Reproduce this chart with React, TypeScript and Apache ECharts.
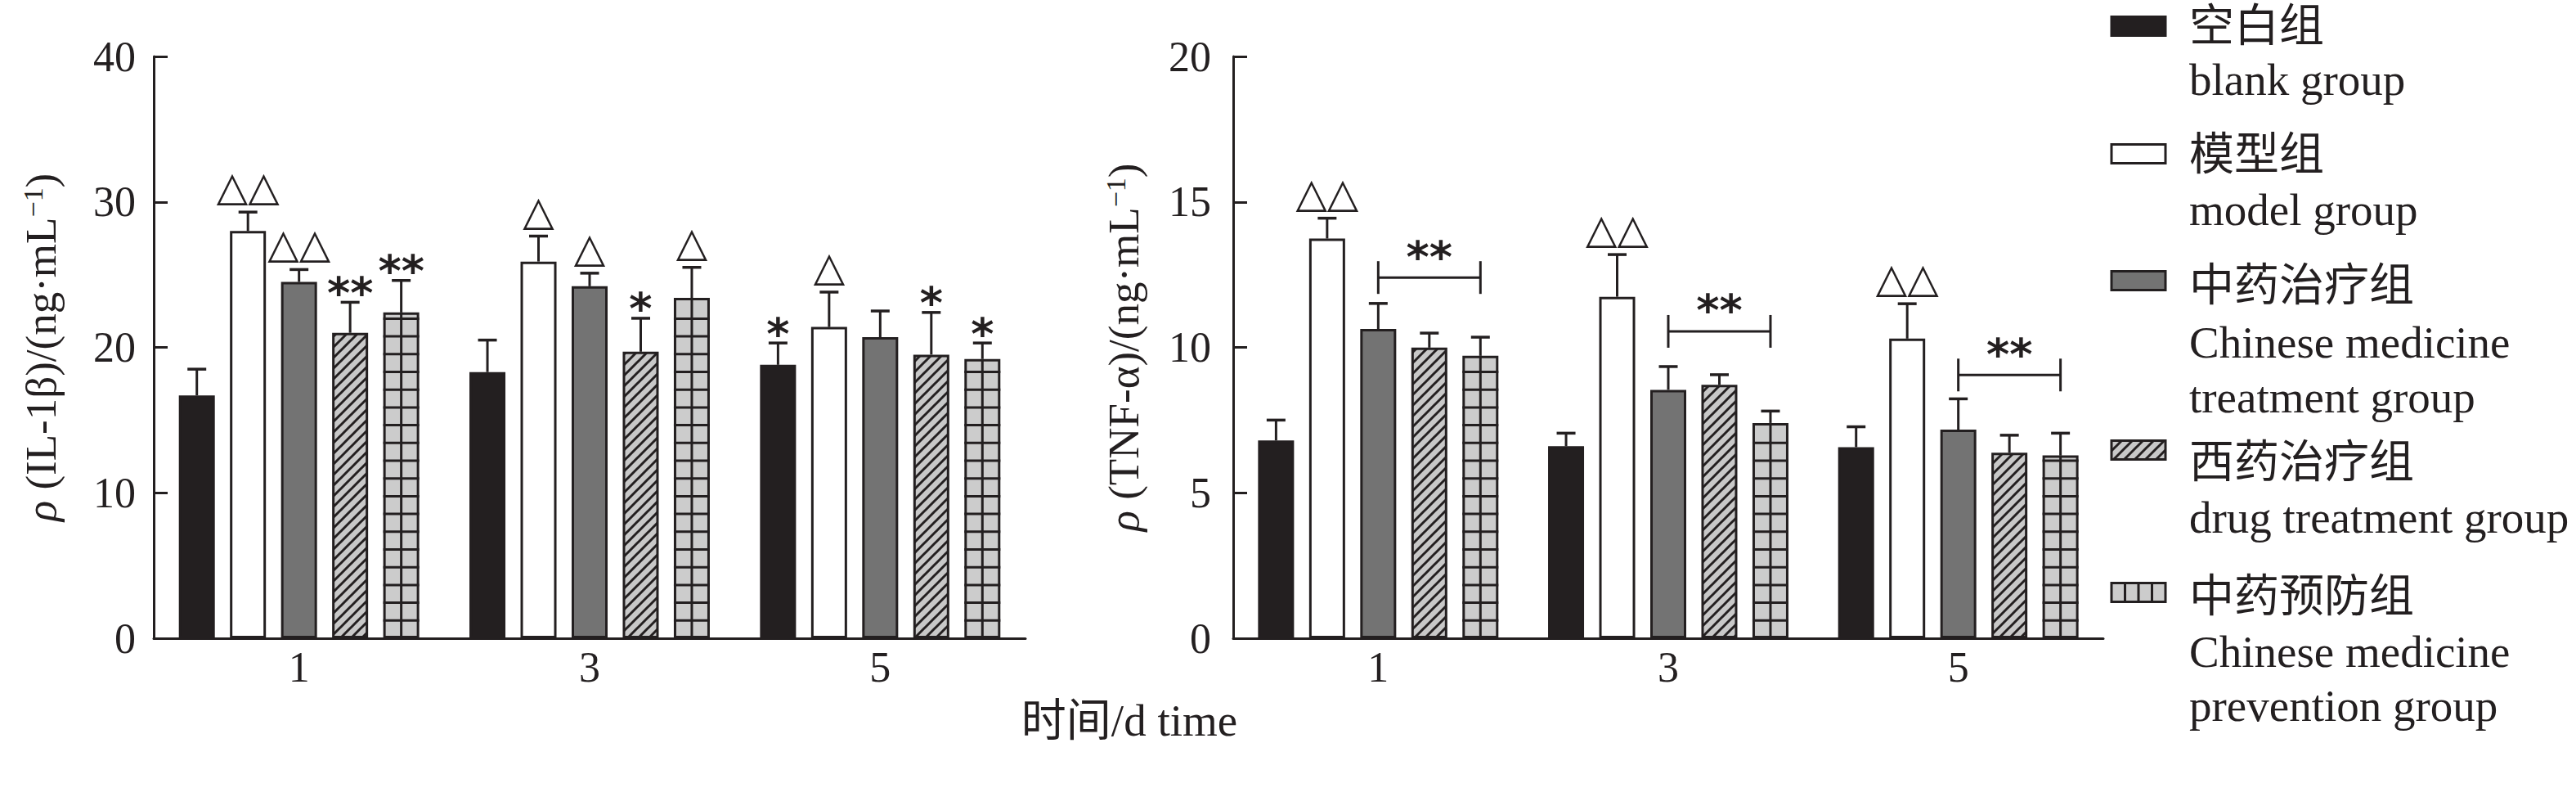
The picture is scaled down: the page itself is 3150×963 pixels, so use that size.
import React, { useEffect, useRef } from 'react';
import * as echarts from 'echarts';

// ---------- data ----------
const categories = ['1', '3', '5'];
const seriesNames = ['空白组', '模型组', '中药治疗组', '西药治疗组', '中药预防组'];
const seriesNamesEn = [
  ['blank group'],
  ['model group'],
  ['Chinese medicine', 'treatment group'],
  ['drug treatment group'],
  ['Chinese medicine', 'prevention group'],
];

// IL-1β (ng/mL): mean and SD per day 1, 3, 5
const il1bBlank = [16.7, 18.3, 18.8];
const il1bModel = [28.0, 25.9, 21.4];
const il1bCmTreat = [24.5, 24.2, 20.7];
const il1bDrug = [21.0, 19.7, 19.5];
const il1bCmPrev = [22.4, 23.4, 19.2];
const il1bBlankSd = [1.8, 2.2, 1.5];
const il1bModelSd = [1.3, 1.75, 2.4];
const il1bCmTreatSd = [0.85, 0.9, 1.8];
const il1bDrugSd = [2.1, 2.3, 2.9];
const il1bCmPrevSd = [2.2, 2.1, 1.1];
const il1bBlankMark = ['', '', '*'];
const il1bModelMark = ['△△', '△', '△'];
const il1bCmTreatMark = ['△△', '△', ''];
const il1bDrugMark = ['**', '*', '*'];
const il1bCmPrevMark = ['**', '△', '*'];

// TNF-α (ng/mL)
const tnfBlank = [6.8, 6.6, 6.57];
const tnfModel = [13.74, 11.74, 10.3];
const tnfCmTreat = [10.63, 8.54, 7.17];
const tnfDrug = [9.99, 8.71, 6.38];
const tnfCmPrev = [9.71, 7.4, 6.29];
const tnfBlankSd = [0.7, 0.45, 0.7];
const tnfModelSd = [0.7, 1.45, 1.2];
const tnfCmTreatSd = [0.88, 0.8, 1.06];
const tnfDrugSd = [0.5, 0.35, 0.6];
const tnfCmPrevSd = [0.64, 0.41, 0.76];
const tnfBlankMark = ['', '', ''];
const tnfModelMark = ['△△', '△△', '△△'];
const tnfCmTreatMark = ['', '', ''];
const tnfDrugMark = ['', '', ''];
const tnfCmPrevMark = ['', '', ''];
const tnfBracket = [12.4, 10.55, 9.05];
const tnfBracketMark = ['**', '**', '**'];

const il1bTicks = { min: 0, max: 40, interval: 10 };
const tnfTicks = { min: 0, max: 20, interval: 5 };

// ---------- styles ----------
const INK = '#231f20';
const SERIF = '"Liberation Serif", "Times New Roman", "Noto Sans CJK SC", serif';
const SYMBOL_FONT = '"DejaVu Sans", sans-serif';
const BAR_W = 44;
const BAR_GAP = 0.42;
const PITCH = BAR_W * (1 + BAR_GAP);

const hatchSvg =
  "<svg xmlns='http://www.w3.org/2000/svg' width='13' height='13'>" +
  "<rect width='13' height='13' fill='#c8c8c8'/>" +
  "<path d='M-3.25,3.25 L3.25,-3.25 M0,13 L13,0 M9.75,16.25 L16.25,9.75' stroke='#231f20' stroke-width='3'/>" +
  '</svg>';
const hatchPattern = {
  image: 'data:image/svg+xml;charset=utf-8,' + encodeURIComponent(hatchSvg),
  repeat: 'repeat',
  imageWidth: 13,
  imageHeight: 13,
};

const fills: any[] = ['#231f20', '#ffffff', '#737373', hatchPattern, '#cccccc'];

function markText(x: number, capY: number, mark: string) {
  const isStar = mark.indexOf('*') >= 0;
  return {
    type: 'text',
    x,
    y: isStar ? capY + 16 : capY - 6,
    silent: true,
    style: {
      text: mark,
      fill: INK,
      fontFamily: SYMBOL_FONT,
      fontSize: isStar ? 54 : 50,
      fontWeight: isStar ? 'bold' : 'normal',
      align: 'center',
      verticalAlign: 'bottom',
    },
  };
}

function errorSeries(axis: number, k: number, means: number[], sds: number[], marks: string[]) {
  return {
    type: 'custom',
    xAxisIndex: axis,
    yAxisIndex: axis,
    silent: true,
    z: 5,
    data: means.map((m, i) => [i, m, sds[i]]),
    renderItem: (params: any, api: any) => {
      const i = api.value(0);
      const m = api.value(1);
      const s = api.value(2);
      const base = api.coord([i, m]);
      const top = api.coord([i, m + s]);
      const zero = api.coord([i, 0]);
      const x = base[0] + (k - 2) * PITCH;
      const children: any[] = [];
      if (k === 4) {
        // grid pattern of the prevention bar
        children.push({
          type: 'line',
          shape: { x1: x, y1: base[1], x2: x, y2: zero[1] },
          style: { stroke: INK, lineWidth: 3 },
        });
        for (let y = zero[1] - 21.7; y > base[1] + 4; y -= 21.7) {
          children.push({
            type: 'line',
            shape: { x1: x - BAR_W / 2, y1: y, x2: x + BAR_W / 2, y2: y },
            style: { stroke: INK, lineWidth: 3 },
          });
        }
      }
      children.push({
        type: 'line',
        shape: { x1: x, y1: base[1], x2: x, y2: top[1] },
        style: { stroke: INK, lineWidth: 3 },
      });
      children.push({
        type: 'line',
        shape: { x1: x - 11.5, y1: top[1], x2: x + 11.5, y2: top[1] },
        style: { stroke: INK, lineWidth: 3.5 },
      });
      const mark = marks[params.dataIndex];
      if (mark) children.push(markText(x, top[1], mark));
      return { type: 'group', children };
    },
  };
}

function bracketSeries(axis: number, ys: number[], marks: string[]) {
  return {
    type: 'custom',
    xAxisIndex: axis,
    yAxisIndex: axis,
    silent: true,
    z: 6,
    data: ys.map((v, i) => [i, v]),
    renderItem: (params: any, api: any) => {
      const p = api.coord([api.value(0), api.value(1)]);
      const x1 = p[0];
      const x2 = p[0] + 2 * PITCH;
      const y = p[1];
      return {
        type: 'group',
        children: [
          { type: 'line', shape: { x1, y1: y, x2, y2: y }, style: { stroke: INK, lineWidth: 3 } },
          { type: 'line', shape: { x1, y1: y - 20, x2: x1, y2: y + 20 }, style: { stroke: INK, lineWidth: 3 } },
          { type: 'line', shape: { x1: x2, y1: y - 20, x2, y2: y + 20 }, style: { stroke: INK, lineWidth: 3 } },
          {
            type: 'text',
            x: (x1 + x2) / 2,
            y: y + 2,
            style: {
              text: marks[params.dataIndex],
              fill: INK,
              fontFamily: SYMBOL_FONT,
              fontSize: 54,
              fontWeight: 'bold',
              align: 'center',
              verticalAlign: 'bottom',
            },
          },
        ],
      };
    },
  };
}

function barSeries(axis: number, k: number, values: number[]) {
  return {
    type: 'bar',
    name: seriesNames[k],
    xAxisIndex: axis,
    yAxisIndex: axis,
    data: values,
    barWidth: BAR_W,
    barGap: BAR_GAP * 100 + '%',
    itemStyle: { color: fills[k], borderColor: INK, borderWidth: 3 },
    silent: true,
  };
}

const axisText = { fontFamily: SERIF, fontSize: 52, color: INK };

function xAxisDef(gridIndex: number) {
  return {
    type: 'category',
    gridIndex,
    data: categories,
    boundaryGap: true,
    axisLine: { show: true, lineStyle: { color: INK, width: 3 } },
    axisTick: { show: true, alignWithLabel: true, inside: true, length: 16, interval: 0, lineStyle: { color: INK, width: 3 } },
    axisLabel: { ...axisText, margin: 9 },
    splitLine: { show: false },
  };
}

function yAxisDef(gridIndex: number, ticks: any, name: string, labelMargin: number, nameGap: number) {
  return {
    type: 'value',
    gridIndex,
    min: ticks.min,
    max: ticks.max,
    interval: ticks.interval,
    name,
    nameLocation: 'middle',
    nameRotate: 90,
    nameGap,
    nameTextStyle: {
      fontFamily: SERIF,
      fontSize: 53,
      color: INK,
      rich: {
        i: { fontFamily: SERIF, fontSize: 53, fontStyle: 'italic', color: INK },
        s: { fontFamily: SERIF, fontSize: 34, color: INK, verticalAlign: 'top' },
      },
    },
    axisLine: { show: true, lineStyle: { color: INK, width: 3 } },
    axisTick: { show: true, inside: true, length: 17, lineStyle: { color: INK, width: 3 } },
    axisLabel: { ...axisText, margin: labelMargin },
    splitLine: { show: false },
  };
}

// ---------- legend (graphic) ----------
const legendSwatchY = [32, 188, 343, 550, 724];
const legendCnY = [31, 188, 348, 564, 728];
const legendEnY = [[97], [256], [418, 485], [632], [796, 862]];

function legendGraphic() {
  const SX = 2582;
  const SW = 66;
  const SH = 23;
  const TX = 2677;
  const FS = 55;
  const els: any[] = [];
  seriesNames.forEach((nm, k) => {
    const sy = legendSwatchY[k] - SH / 2;
    els.push({
      type: 'rect',
      shape: { x: SX, y: sy, width: SW, height: SH },
      style: { fill: fills[k], stroke: INK, lineWidth: 3 },
      silent: true,
    });
    if (k === 4) {
      for (let j = 1; j < 4; j++) {
        const lx = SX + (SW / 4) * j;
        els.push({
          type: 'line',
          shape: { x1: lx, y1: sy, x2: lx, y2: sy + SH },
          style: { stroke: INK, lineWidth: 3 },
          silent: true,
        });
      }
    }
    els.push({
      type: 'text',
      x: TX,
      y: legendCnY[k],
      silent: true,
      style: { text: nm, fill: INK, fontFamily: SERIF, fontSize: FS, align: 'left', verticalAlign: 'middle' },
    });
    seriesNamesEn[k].forEach((line, j) => {
      els.push({
        type: 'text',
        x: TX,
        y: legendEnY[k][j],
        silent: true,
        style: { text: line, fill: INK, fontFamily: SERIF, fontSize: FS, align: 'left', verticalAlign: 'middle' },
      });
    });
  });
  els.push({
    type: 'text',
    x: 1381,
    y: 880,
    silent: true,
    style: { text: '时间/d time', fill: INK, fontFamily: SERIF, fontSize: 55, align: 'center', verticalAlign: 'middle' },
  });
  return els;
}

export default function App() {
  const ref = useRef<HTMLDivElement>(null);

  useEffect(() => {
    if (!ref.current) return;
    const chart = echarts.init(ref.current, null, { renderer: 'svg' });

    const il1bMeans = [il1bBlank, il1bModel, il1bCmTreat, il1bDrug, il1bCmPrev];
    const il1bSds = [il1bBlankSd, il1bModelSd, il1bCmTreatSd, il1bDrugSd, il1bCmPrevSd];
    const il1bMarks = [il1bBlankMark, il1bModelMark, il1bCmTreatMark, il1bDrugMark, il1bCmPrevMark];
    const tnfMeans = [tnfBlank, tnfModel, tnfCmTreat, tnfDrug, tnfCmPrev];
    const tnfSds = [tnfBlankSd, tnfModelSd, tnfCmTreatSd, tnfDrugSd, tnfCmPrevSd];
    const tnfMarks = [tnfBlankMark, tnfModelMark, tnfCmTreatMark, tnfDrugMark, tnfCmPrevMark];

    const series: any[] = [];
    il1bMeans.forEach((v, k) => series.push(barSeries(0, k, v)));
    tnfMeans.forEach((v, k) => series.push(barSeries(1, k, v)));
    il1bMeans.forEach((v, k) => series.push(errorSeries(0, k, v, il1bSds[k], il1bMarks[k])));
    tnfMeans.forEach((v, k) => series.push(errorSeries(1, k, v, tnfSds[k], tnfMarks[k])));
    series.push(bracketSeries(1, tnfBracket, tnfBracketMark));

    chart.setOption({
      animation: false,
      backgroundColor: '#ffffff',
      grid: [
        { left: 188, top: 69, width: 1066, height: 711 },
        { left: 1508, top: 69, width: 1064, height: 711 },
      ],
      xAxis: [xAxisDef(0), xAxisDef(1)],
      yAxis: [
        yAxisDef(0, il1bTicks, '{i|ρ} (IL-1β)/(ng·mL{s|−1})', 22, 112),
        yAxisDef(1, tnfTicks, '{i|ρ} (TNF-α)/(ng·mL{s|−1})', 27, 108),
      ],
      series,
      graphic: legendGraphic(),
    });

    return () => {
      chart.dispose();
    };
  }, []);

  return (
    <div
      ref={ref}
      style={{ position: 'absolute', left: 0, top: 0, width: '3150px', height: '963px', background: '#fff' }}
    />
  );
}
